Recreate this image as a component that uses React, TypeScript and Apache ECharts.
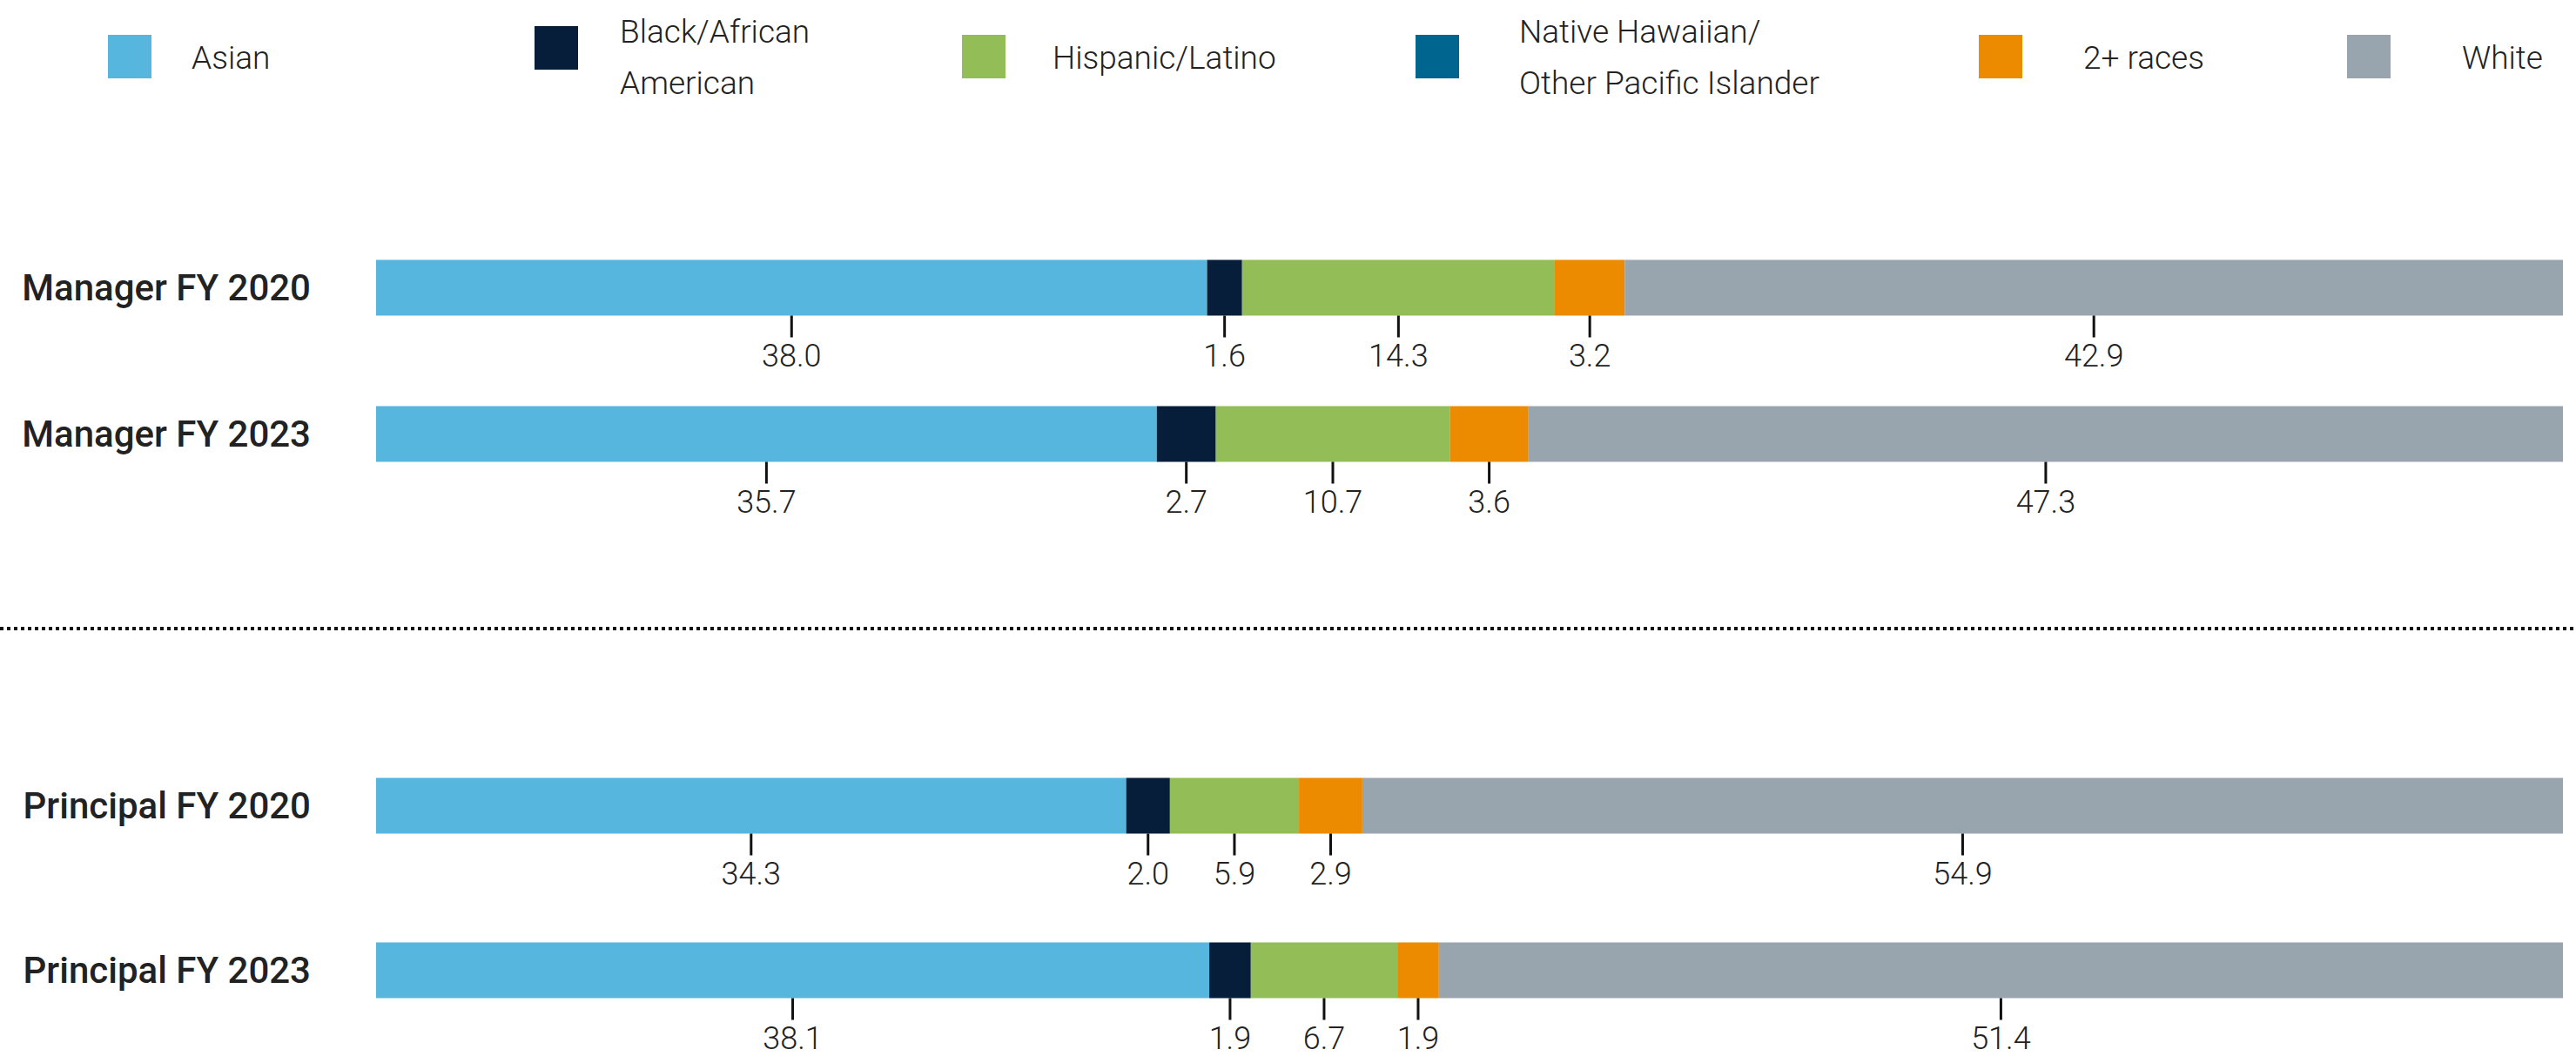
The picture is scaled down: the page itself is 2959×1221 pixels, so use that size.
import React, { useEffect, useRef } from "react";
import * as echarts from "echarts";

const managerCategories = ["Manager FY 2020", "Manager FY 2023"];
const principalCategories = ["Principal FY 2020", "Principal FY 2023"];

// order: Manager FY 2020, Manager FY 2023, Principal FY 2020, Principal FY 2023
const seriesNames = [
  "Asian",
  "Black/African\nAmerican",
  "Hispanic/Latino",
  "Native Hawaiian/\nOther Pacific Islander",
  "2+ races",
  "White",
];
const asian = [38.0, 35.7, 34.3, 38.1];
const black = [1.6, 2.7, 2.0, 1.9];
const hispanic = [14.3, 10.7, 5.9, 6.7];
const nhopi = [0, 0, 0, 0];
const multi = [3.2, 3.6, 2.9, 1.9];
const white = [42.9, 47.3, 54.9, 51.4];

const seriesValues = [asian, black, hispanic, nhopi, multi, white];
const colors = ["#56B6DD", "#061E3A", "#93BD57", "#006690", "#EC8B00", "#98A4AE"];

const FONT = "Roboto";

export default function App() {
  const ref = useRef<HTMLDivElement>(null);

  useEffect(() => {
    document.body.style.margin = "0";
    if (!ref.current) return;
    const chart = echarts.init(ref.current, null, { renderer: "svg" });

    const series: any[] = [];
    [0, 1].forEach((g) => {
      seriesValues.forEach((vals, i) => {
        series.push({
          type: "bar",
          name: seriesNames[i],
          xAxisIndex: g,
          yAxisIndex: g,
          stack: "total" + g,
          barWidth: 64,
          data: vals.slice(g * 2, g * 2 + 2),
          itemStyle: { color: colors[i] },
          label: {
            show: i !== 3,
            position: "bottom",
            distance: 0,
            formatter: (p: any) => `{t|}\n{v|${Number(p.value).toFixed(1)}}`,
            rich: {
              t: { width: 3, height: 25, backgroundColor: "#111", align: "center" },
              v: {
                fontSize: 36,
                lineHeight: 38,
                color: "#222",
                fontFamily: FONT,
                fontWeight: 300,
                align: "center",
                padding: [4, 0, 0, 0],
              },
            },
          },
        });
      });
    });

    const legendItems = [
      { sx: 124, sy: 40, tx: 220 },
      { sx: 614, sy: 30, tx: 712 },
      { sx: 1105, sy: 40, tx: 1209 },
      { sx: 1626, sy: 40, tx: 1745 },
      { sx: 2273, sy: 40, tx: 2393 },
      { sx: 2696, sy: 40, tx: 2828 },
    ];
    const graphic: any[] = [];
    legendItems.forEach((it, i) => {
      graphic.push({
        type: "rect",
        shape: { x: it.sx, y: it.sy, width: 50, height: 50 },
        style: { fill: colors[i] },
      });
      graphic.push({
        type: "text",
        x: it.tx,
        y: 66,
        style: {
          text: seriesNames[i],
          fontSize: 37,
          fontFamily: FONT,
          fontWeight: 300,
          fill: "#222",
          lineHeight: 59,
          verticalAlign: "middle",
          align: "left",
        },
      });
    });
    graphic.push({
      type: "line",
      shape: { x1: 0, y1: 722, x2: 2959, y2: 722 },
      style: { stroke: "#111", lineWidth: 4, lineDash: [4, 4] },
    });

    const yAxisCommon = {
      type: "category",
      inverse: true,
      axisLine: { show: false },
      axisTick: { show: false },
      axisLabel: {
        fontSize: 42,
        fontWeight: 500,
        color: "#222",
        fontFamily: FONT,
        margin: 75,
      },
    };

    chart.setOption({
      animation: false,
      backgroundColor: "#ffffff",
      grid: [
        { left: 432, right: 15, top: 246.5, height: 336 },
        { left: 432, right: 15, top: 831, height: 378 },
      ],
      xAxis: [
        { type: "value", gridIndex: 0, min: 0, max: 100, show: false },
        { type: "value", gridIndex: 1, min: 0, max: 100, show: false },
      ],
      yAxis: [
        { ...yAxisCommon, gridIndex: 0, data: managerCategories },
        { ...yAxisCommon, gridIndex: 1, data: principalCategories },
      ],
      graphic,
      series,
    });

    return () => chart.dispose();
  }, []);

  return (
    <div
      ref={ref}
      style={{ position: "fixed", left: 0, top: 0, width: 2959, height: 1221 }}
    />
  );
}
